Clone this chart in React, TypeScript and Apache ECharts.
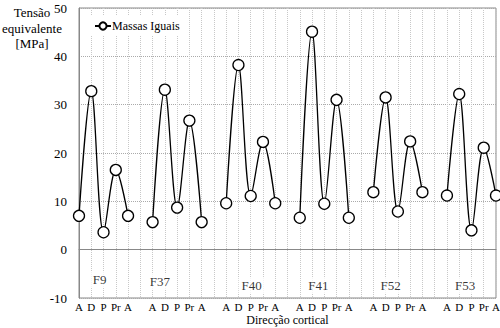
import React, { useEffect, useRef } from "react";
import * as echarts from "echarts";

const groupCats = ["A", "D", "P", "Pr", "A"];
const groupNames = ["F9", "F37", "F40", "F41", "F52", "F53"];
const valuesF9 = [7.0, 32.8, 3.6, 16.5, 7.0];
const valuesF37 = [5.7, 33.1, 8.7, 26.7, 5.7];
const valuesF40 = [9.6, 38.2, 11.1, 22.3, 9.6];
const valuesF41 = [6.6, 45.1, 9.5, 31.0, 6.6];
const valuesF52 = [11.9, 31.5, 7.9, 22.4, 11.9];
const valuesF53 = [11.2, 32.2, 4.0, 21.1, 11.2];
const groupValues = [valuesF9, valuesF37, valuesF40, valuesF41, valuesF52, valuesF53];
// group label anchors: category index, y value, x offset (px)
const labelIdx = [2, 7, 14, 20, 25, 31];
const labelY = [-6.2, -6.6, -7.4, -7.4, -7.4, -7.4];
const labelDx = [-4, -5, 1, -6, 5, 6];
const yTicks = { min: -10, max: 50, interval: 10 };

const FONT = "Liberation Serif";

export default function App() {
  const ref = useRef<HTMLDivElement>(null);
  useEffect(() => {
    if (!ref.current) return;
    const chart = echarts.init(ref.current, undefined, { renderer: "svg" });
    const cats: string[] = [];
    const vals: (number | null)[] = [];
    groupValues.forEach((g, gi) => {
      if (gi > 0) {
        cats.push("");
        vals.push(null);
      }
      groupCats.forEach((c, i) => {
        cats.push(c);
        vals.push(g[i]);
      });
    });
    const catData = cats.map((c) => ({ value: c }));
    const labelData = groupNames.map((n, i) => ({
      name: n,
      value: [labelIdx[i], labelY[i]],
      label: { offset: [labelDx[i], 0] },
    }));
    chart.setOption({
      animation: false,
      textStyle: { fontFamily: FONT },
      grid: {
        left: 79,
        right: 4,
        top: 8,
        bottom: 30,
        outerBoundsMode: "none",
        containLabel: false,
        show: true,
        borderColor: "#888",
        borderWidth: 1,
      },
      legend: {
        data: ["Massas Iguais"],
        left: 90,
        top: 16,
        itemWidth: 16,
        itemHeight: 9,
        backgroundColor: "#fff",
        padding: [4, 4],
        textStyle: { fontFamily: FONT, fontSize: 12, color: "#000", padding: [0, 0, 0, -4] },
      },
      graphic: [
        {
          type: "text",
          x: 32,
          y: 5,
          style: {
            text: "Tensão\nequivalente\n[MPa]",
            textAlign: "center",
            textVerticalAlign: "top",
            fontFamily: FONT,
            fontSize: 13,
            lineHeight: 15.5,
            fill: "#000",
          },
        },
      ],
      xAxis: {
        type: "category",
        data: catData,
        boundaryGap: false,
        name: "Direcção cortical",
        nameLocation: "middle",
        nameGap: 16,
        nameMoveOverlap: false,
        nameTextStyle: { fontFamily: FONT, fontSize: 12, color: "#000" },
        axisLine: { lineStyle: { color: "#888" } },
        axisTick: { show: false },
        axisLabel: { interval: 0, fontFamily: FONT, fontSize: 11, color: "#000", margin: 3 },
        splitLine: { show: true, interval: 0, lineStyle: { color: "#c8c8c8", type: "dotted" } },
      },
      yAxis: {
        type: "value",
        min: yTicks.min,
        max: yTicks.max,
        interval: yTicks.interval,
        axisLine: { show: true, lineStyle: { color: "#888" } },
        axisTick: { show: false },
        axisLabel: { fontFamily: FONT, fontSize: 13, color: "#000", margin: 12 },
        splitLine: { show: true, lineStyle: { color: "#aaa", type: "dotted" } },
      },
      series: [
        {
          name: "Massas Iguais",
          type: "line",
          data: vals,
          smooth: 0.35,
          connectNulls: false,
          symbol: "circle",
          symbolSize: 11,
          lineStyle: { color: "#000", width: 1.3 },
          itemStyle: { color: "#fff", borderColor: "#000", borderWidth: 1.3 },
          markLine: {
            silent: true,
            symbol: "none",
            label: { show: false },
            lineStyle: { color: "#888", type: "solid", width: 1 },
            data: [{ yAxis: 0 }],
            z: 1,
          },
          z: 5,
        },
        {
          type: "scatter",
          data: labelData,
          symbolSize: 0,
          silent: true,
          label: {
            show: true,
            position: "inside",
            formatter: "{b}",
            fontFamily: FONT,
            fontSize: 13,
            color: "#000",
            backgroundColor: "#fff",
            padding: [2, 3],
          },
          z: 3,
        },
      ],
    });
    return () => chart.dispose();
  }, []);
  return <div ref={ref} style={{ width: 500, height: 328, position: "absolute", left: 0, top: 0 }} />;
}
